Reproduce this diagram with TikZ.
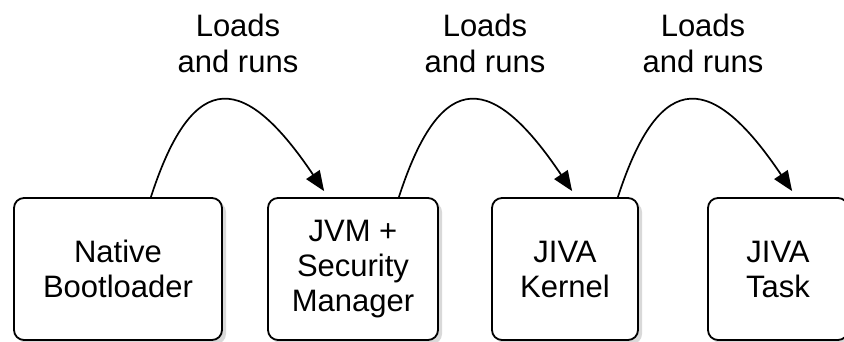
\documentclass[tikz,border=0pt]{standalone}
\usepackage{fontspec}
\setmainfont{Liberation Sans}
\usetikzlibrary{arrows.meta,shadows}
\begin{document}
\begin{tikzpicture}[x=1pt,y=1pt,
        stage/.style={draw,line width=1.8pt,fill=white,rounded corners=10pt,
            minimum height=142pt,inner sep=0pt,align=center,
            font=\fontsize{31}{35}\selectfont,
            drop shadow={shadow xshift=4pt,shadow yshift=-4pt,opacity=0.3}},
        loads/.style={align=center,font=\fontsize{31}{36}\selectfont},
        runs/.style={line width=1.7pt,-{Triangle[length=20pt,width=16pt]}}]
    \useasboundingbox (0,0) rectangle (844,342);
    \node[stage,minimum width=208pt] (boot) at (118,73) {Native\\Bootloader};
    \node[stage,minimum width=170pt] (jvm) at (353,73) {JVM +\\Security\\Manager};
    \node[stage,minimum width=146pt] (kernel) at (565,73) {JIVA\\Kernel};
    \node[stage,minimum width=140pt] (task) at (778,73) {JIVA\\Task};
    \node[loads] (l1) at (238,299) {Loads\\and runs};
    \node[loads] (l2) at (485,299) {Loads\\and runs};
    \node[loads] (l3) at (703,299) {Loads\\and runs};
    \draw[runs] ([xshift=-72pt]boot.north east)
        .. controls +(43,133) and +(-78,116) .. ([xshift=57pt,yshift=6pt]jvm.north west);
    \draw[runs] ([xshift=-40pt]jvm.north east)
        .. controls +(43,133) and +(-78,116) .. ([xshift=81pt,yshift=6pt]kernel.north west);
    \draw[runs] ([xshift=-21pt]kernel.north east)
        .. controls +(43,133) and +(-78,116) .. ([xshift=85pt,yshift=6pt]task.north west);
\end{tikzpicture}
\end{document}
